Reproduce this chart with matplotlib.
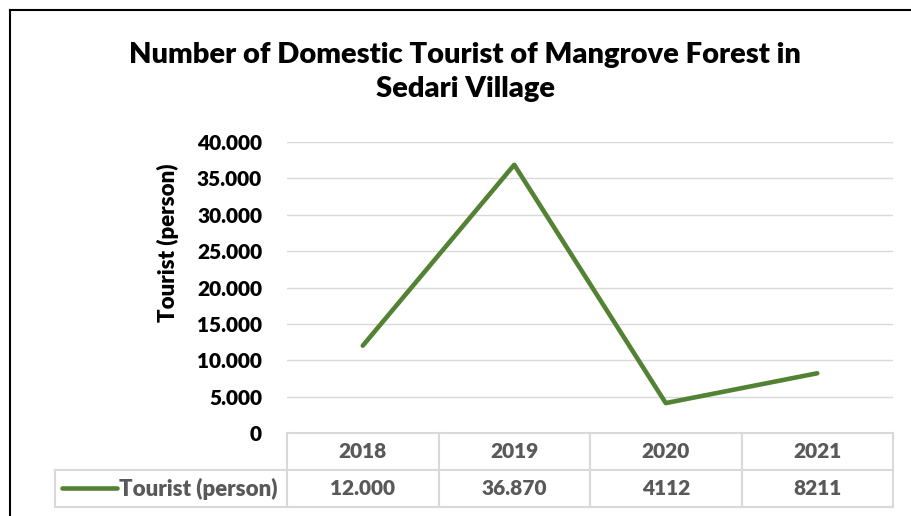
import matplotlib.pyplot as plt
from matplotlib.lines import Line2D
from matplotlib.transforms import blended_transform_factory

# =========================
# DATA
# =========================
YEARS = ["2018", "2019", "2020", "2021"]
TOURISTS = [12000, 36870, 4112, 8211]
TABLE_LABELS = ["12.000", "36.870", "4112", "8211"]
SERIES_NAME = "Tourist (person)"
TITLE = "Number of Domestic Tourist of Mangrove Forest in\nSedari Village"
Y_TICKS = [0, 5000, 10000, 15000, 20000, 25000, 30000, 35000, 40000]

LINE_COLOUR = "#548235"
GRID_COLOUR = "#d9d9d9"
TABLE_TEXT = "#595959"
WEIGHT = "heavy"

W, H = 911, 516


def fx(px):
    return px / W


def fy(py):
    return 1 - py / H


def fmt(v):
    return "0" if v == 0 else f"{v:,}".replace(",", ".")


plt.rcParams["font.family"] = ["Lato", "DejaVu Sans"]

fig = plt.figure(figsize=(W / 100, H / 100), dpi=100)
ax = fig.add_axes([fx(287), fy(433), fx(893) - fx(287), fy(142) - fy(433)])

x = list(range(len(YEARS)))
ax.plot(x, TOURISTS, color=LINE_COLOUR, lw=3.3, solid_capstyle="round", zorder=3)

ax.set_xlim(-0.5, len(YEARS) - 0.5)
ax.set_ylim(0, 40000)
ax.set_yticks(Y_TICKS)
ax.set_yticklabels([fmt(v) for v in Y_TICKS], fontsize=15, fontweight=WEIGHT)
ax.tick_params(axis="y", length=0, pad=18)
ax.set_xticks([])
ax.grid(axis="y", color=GRID_COLOUR, lw=1)
for s in ax.spines.values():
    s.set_visible(False)

fig.text(fx(168), fy(243), SERIES_NAME, rotation=90, ha="center", va="center",
         fontsize=16, fontweight=WEIGHT)

fig.text(fx(465), fy(72), TITLE, ha="center", va="center", fontsize=21,
         fontweight=WEIGHT, linespacing=1.4)

# data table under the axis
tr = blended_transform_factory(ax.transData, fig.transFigure)
y_top, y_mid, y_bot = fy(433), fy(470), fy(507)
left = -0.5
right = len(YEARS) - 0.5
ax.add_line(Line2D([left, right], [y_top, y_top], transform=tr, color=GRID_COLOUR, lw=1.5, clip_on=False))
ax.add_line(Line2D([left, right], [y_bot, y_bot], transform=tr, color=GRID_COLOUR, lw=1.5, clip_on=False))
for i in range(len(YEARS) + 1):
    ax.add_line(Line2D([i - 0.5, i - 0.5], [y_top, y_bot], transform=tr, color=GRID_COLOUR, lw=1.5, clip_on=False))
fig.add_artist(Line2D([fx(55), fx(893)], [y_mid, y_mid], color=GRID_COLOUR, lw=1.5))
fig.add_artist(Line2D([fx(55), fx(893)], [y_bot, y_bot], color=GRID_COLOUR, lw=1.5))
fig.add_artist(Line2D([fx(55), fx(55)], [y_mid, y_bot], color=GRID_COLOUR, lw=1.5))

for i, (yr, lab) in enumerate(zip(YEARS, TABLE_LABELS)):
    ax.text(i, (y_top + y_mid) / 2, yr, transform=tr, ha="center", va="center",
            fontsize=15, fontweight=WEIGHT, color=TABLE_TEXT)
    ax.text(i, (y_mid + y_bot) / 2, lab, transform=tr, ha="center", va="center",
            fontsize=15, fontweight=WEIGHT, color=TABLE_TEXT)

fig.add_artist(Line2D([fx(62), fx(117)], [fy(488), fy(488)], color=LINE_COLOUR, lw=3.3,
                      solid_capstyle="round"))
fig.text(fx(119), (y_mid + y_bot) / 2, SERIES_NAME, ha="left", va="center",
         fontsize=16, fontweight=WEIGHT, color=TABLE_TEXT)

# chart border
fig.add_artist(Line2D([fx(10), fx(10)], [fy(10), 0], color="black", lw=1.5))
fig.add_artist(Line2D([fx(10), 1], [fy(10), fy(10)], color="black", lw=1.5))

fig.savefig("out.png", dpi=100)
